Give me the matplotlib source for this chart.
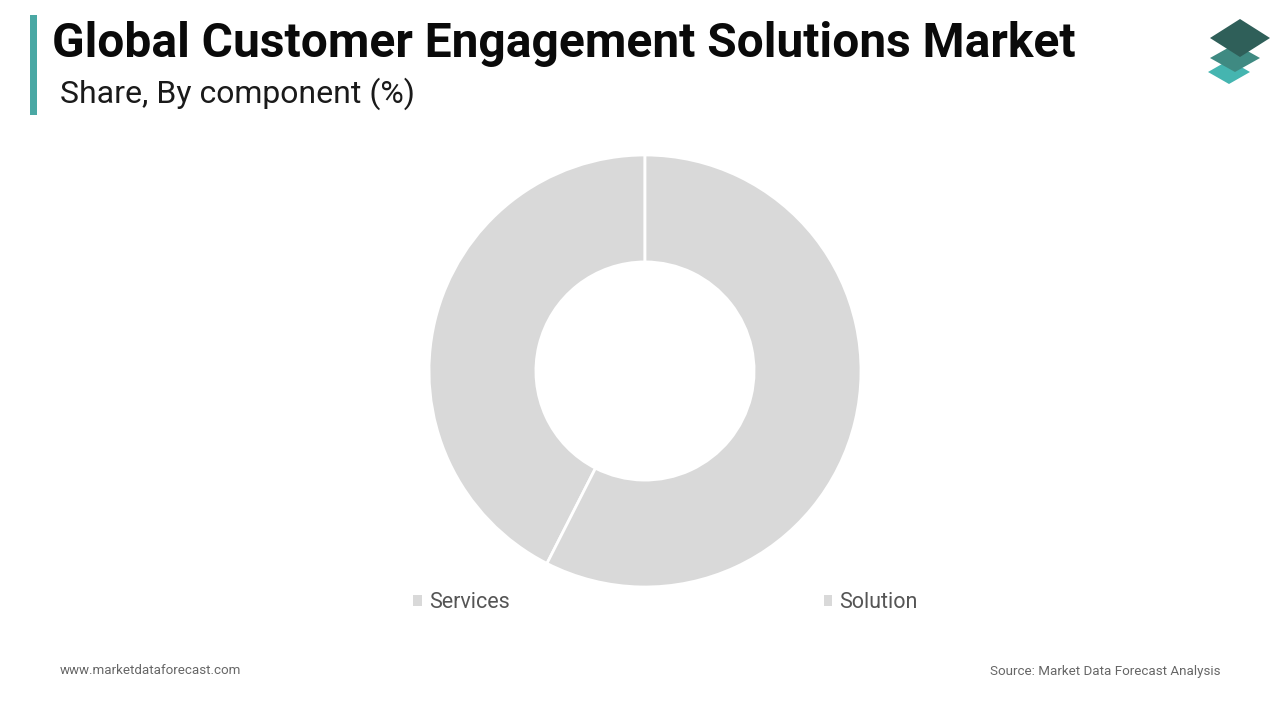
import matplotlib.pyplot as plt
from matplotlib.patches import Polygon, Rectangle

labels = ["Services", "Solution"]
shares = [42.5, 57.5]
colors = ["#d9d9d9", "#d9d9d9"]

title = "Global Customer Engagement Solutions Market"
subtitle = "Share, By component (%)"
site = "www.marketdataforecast.com"
source = "Source: Market Data Forecast Analysis"

plt.rcParams["font.family"] = ["Roboto", "DejaVu Sans"]

W, H = 1280, 720
fig = plt.figure(figsize=(12.8, 7.2), dpi=100)
fig.patch.set_facecolor("white")

# accent bar next to the title
fig.add_artist(Rectangle((30 / W, 1 - 115 / H), 7 / W, 100 / H,
                         transform=fig.transFigure, color="#4aa8a4", lw=0))

fig.text(52 / W, 1 - 44 / H, title, fontsize=34.5, fontweight="bold",
         color="#0a0a0a", va="center", ha="left")
fig.text(60 / W, 1 - 94 / H, subtitle, fontsize=23, color="#1a1a1a",
         va="center", ha="left")

# logo: three stacked diamonds
def diamond(cx, cy, hw, hh, col):
    pts = [(cx - hw, cy), (cx, cy - hh), (cx + hw, cy), (cx, cy + hh)]
    pts = [(x / W, 1 - y / H) for x, y in pts]
    fig.add_artist(Polygon(pts, closed=True, transform=fig.transFigure,
                           color=col, lw=0))

diamond(1229, 72, 21, 12, "#45b5b0")
diamond(1235, 58, 25, 14, "#3f8a82")
diamond(1240, 38, 30, 19, "#2f5f59")

# donut
cx, cy, r = 645, 371, 216
ax = fig.add_axes([(cx - r) / W, (H - cy - r) / H, 2 * r / W, 2 * r / H])
wedges, _ = ax.pie(shares, colors=colors, startangle=90, radius=1,
                   wedgeprops=dict(width=0.495, edgecolor="white", linewidth=2))
ax.set_xlim(-1, 1)
ax.set_ylim(-1, 1)
ax.set_aspect("equal")
ax.axis("off")

leg = fig.legend(wedges, labels, loc="center left",
                 bbox_to_anchor=(413 / W, 1 - 603 / H), ncol=2, frameon=False,
                 fontsize=15.5, handlelength=0.4, handleheight=0.4,
                 handletextpad=0.33, columnspacing=14.6, borderpad=0,
                 borderaxespad=0)
for t in leg.get_texts():
    t.set_color("#555555")
for h in leg.legend_handles:
    h.set_edgecolor("none")

fig.text(60 / W, 1 - 671 / H, site, fontsize=9.6, color="#666666",
         va="center", ha="left")
fig.text(1220 / W, 1 - 671 / H, source, fontsize=9.6, color="#666666",
         va="center", ha="right")

fig.savefig("out.png", dpi=100, facecolor="white")
